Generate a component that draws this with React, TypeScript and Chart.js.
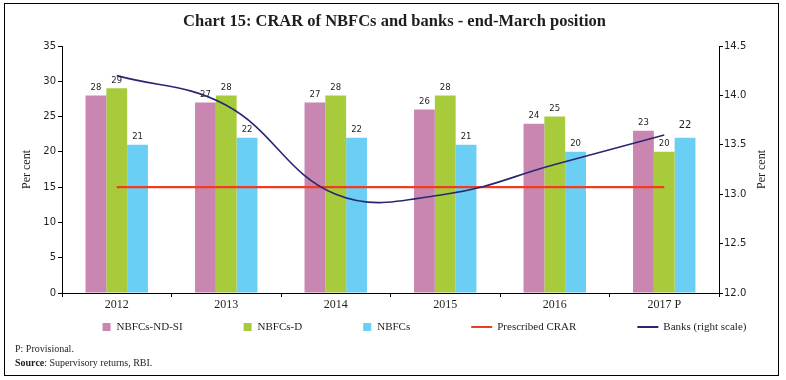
import React, { useEffect, useRef } from "react";
import { Chart, registerables } from "chart.js";

Chart.register(...registerables);

const categories = ["2012", "2013", "2014", "2015", "2016", "2017 P"];
const ndsiValues = [28, 27, 27, 26, 24, 23];
const depositValues = [29, 28, 28, 28, 25, 20];
const nbfcValues = [21, 22, 22, 21, 20, 22];
const prescribedCrar = [15, 15, 15, 15, 15, 15];
const banksCrar = [14.2, 13.9, 13.0, 13.0, 13.3, 13.6];

const seriesNames = ["NBFCs-ND-SI", "NBFCs-D", "NBFCs", "Prescribed CRAR", "Banks (right scale)"];
const titleText = "Chart 15: CRAR of NBFCs and banks - end-March position";
const axisTitle = "Per cent";

const SERIF = '"Liberation Serif", serif';
const SANS = '"DejaVu Sans", sans-serif';
const TEXT = "#1e1e1e";

const barLabelPlugin = {
  id: "barLabels",
  afterDatasetsDraw(chart: any) {
    const ctx = chart.ctx;
    ctx.save();
    ctx.textAlign = "center";
    ctx.textBaseline = "middle";
    ctx.fillStyle = TEXT;
    chart.data.datasets.forEach((ds: any, di: number) => {
      if (ds.type !== "bar") return;
      const meta = chart.getDatasetMeta(di);
      meta.data.forEach((el: any, i: number) => {
        const big = di === 2 && i === ds.data.length - 1;
        ctx.font = (big ? "10px " : "8.5px ") + SANS;
        ctx.fillText(String(ds.data[i]), el.x, el.y - (big ? 12 : 8));
      });
    });
    ctx.restore();
  },
};

const rightTitlePlugin = {
  id: "rightTitle",
  afterDraw(chart: any) {
    const ctx = chart.ctx;
    const s = chart.scales.y1;
    ctx.save();
    ctx.font = "12px " + SERIF;
    ctx.fillStyle = TEXT;
    ctx.textAlign = "center";
    ctx.textBaseline = "middle";
    ctx.translate(s.right - 11, (s.top + s.bottom) / 2);
    ctx.rotate(-Math.PI / 2);
    ctx.fillText(axisTitle, 0, 0);
    ctx.restore();
  },
};

const legendPlugin = {
  id: "customLegend",
  afterDraw(chart: any) {
    const ctx = chart.ctx;
    ctx.save();
    ctx.font = "11px " + SERIF;
    const items = chart.data.datasets.map((ds: any) => ({
      label: ds.label,
      line: ds.type === "line",
      color: ds.type === "line" ? ds.borderColor : ds.backgroundColor,
    }));
    const spacing = 61;
    const widths = items.map((it: any) => (it.line ? 26 : 14) + ctx.measureText(it.label).width);
    const total = widths.reduce((a: number, b: number) => a + b, 0) + spacing * (items.length - 1);
    const area = chart.chartArea;
    let x = (area.left + area.right) / 2 + 34 - total / 2;
    const y = area.bottom + 34;
    ctx.textBaseline = "middle";
    ctx.textAlign = "left";
    items.forEach((it: any, i: number) => {
      let tx;
      if (it.line) {
        ctx.strokeStyle = it.color;
        ctx.lineWidth = 2;
        ctx.beginPath();
        ctx.moveTo(x, y);
        ctx.lineTo(x + 21, y);
        ctx.stroke();
        tx = x + 26;
      } else {
        ctx.fillStyle = it.color;
        ctx.fillRect(x, y - 4, 8, 8);
        tx = x + 14;
      }
      ctx.fillStyle = TEXT;
      ctx.fillText(it.label, tx, y + 0.5);
      x += widths[i] + spacing;
    });
    ctx.restore();
  },
};

export default function App() {
  const ref = useRef<HTMLCanvasElement>(null);

  useEffect(() => {
    if (!ref.current) return;
    const chart = new Chart(ref.current, {
      type: "bar",
      data: {
        labels: categories,
        datasets: [
          { type: "bar", label: seriesNames[0], data: ndsiValues, backgroundColor: "#C886B0", yAxisID: "y", order: 3, categoryPercentage: 0.57, barPercentage: 1 },
          { type: "bar", label: seriesNames[1], data: depositValues, backgroundColor: "#A7CB3B", yAxisID: "y", order: 3, categoryPercentage: 0.57, barPercentage: 1 },
          { type: "bar", label: seriesNames[2], data: nbfcValues, backgroundColor: "#6BCEF5", yAxisID: "y", order: 3, categoryPercentage: 0.57, barPercentage: 1 },
          { type: "line", label: seriesNames[3], data: prescribedCrar, borderColor: "#EE3D23", backgroundColor: "#EE3D23", borderWidth: 2.2, pointRadius: 0, yAxisID: "y", order: 1 },
          { type: "line", label: seriesNames[4], data: banksCrar, borderColor: "#2A2772", backgroundColor: "#2A2772", borderWidth: 1.6, pointRadius: 0, tension: 0.4, yAxisID: "y1", order: 0 },
        ] as any,
      },
      options: {
        responsive: false,
        animation: false,
        layout: { padding: { left: 16, right: 13, top: 0, bottom: 67 } },
        plugins: {
          legend: { display: false },
          tooltip: { enabled: false },
          title: {
            display: true,
            text: titleText,
            color: TEXT,
            font: { family: SERIF, size: 16.5, weight: "bold" },
            padding: { top: 12, bottom: 14.2 },
          },
        },
        scales: {
          x: {
            grid: { display: true, drawOnChartArea: false, tickLength: 4, color: "#000", offset: true },
            border: { display: true, color: "#000", width: 1 },
            ticks: { color: TEXT, font: { family: SERIF, size: 12 }, padding: 1 },
            afterFit: (s: any) => { s.height = 20; },
          },
          y: {
            position: "left",
            min: 0,
            max: 35,
            ticks: { stepSize: 5, color: TEXT, font: { family: SANS, size: 10 }, padding: 2 },
            grid: { drawOnChartArea: false, tickLength: 4, color: "#000" },
            border: { display: true, color: "#000", width: 1 },
            title: { display: true, text: axisTitle, color: TEXT, font: { family: SERIF, size: 12 } },
            afterFit: (s: any) => { s.width = 46; },
          },
          y1: {
            position: "right",
            min: 12,
            max: 14.5,
            ticks: { stepSize: 0.5, color: TEXT, font: { family: SANS, size: 10 }, padding: 1, callback: (v: any) => Number(v).toFixed(1) },
            grid: { drawOnChartArea: false, tickLength: 4, color: "#000" },
            border: { display: true, color: "#000", width: 1 },
            title: { display: false },
            afterFit: (s: any) => { s.width = 54; },
          },
        },
      } as any,
      plugins: [barLabelPlugin, rightTitlePlugin, legendPlugin],
    });
    return () => chart.destroy();
  }, []);

  return (
    <div style={{ position: "absolute", left: 0, top: 0, width: 786, height: 380, background: "#fff" }}>
      <div style={{ position: "absolute", left: 4, top: 3, width: 775, height: 373, border: "1px solid #000", boxSizing: "border-box" }} />
      <canvas ref={ref} width={786} height={380} style={{ position: "absolute", left: 0, top: 0 }} />
      <div style={{ position: "absolute", left: 15, top: 342, fontFamily: SERIF, fontSize: 10, color: TEXT, lineHeight: "14px" }}>
        <div>P: Provisional.</div>
        <div><b>Source</b>: Supervisory returns, RBI.</div>
      </div>
    </div>
  );
}
